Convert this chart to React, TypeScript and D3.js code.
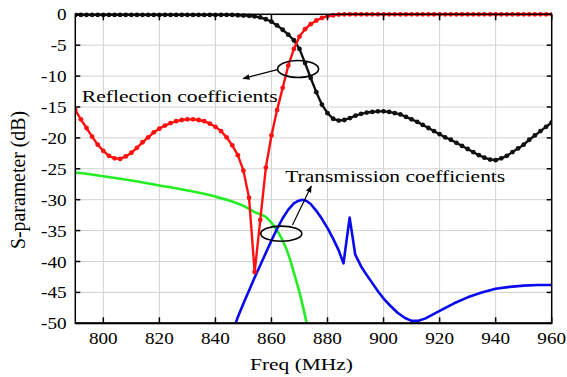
import {useEffect, useRef} from 'react';
import * as d3 from 'd3';

// sample frequencies of the two reflection traces (MHz)
const markerFreq = [
  790, 792, 794, 796, 798, 800, 802, 804, 806, 808, 810, 812, 814, 816, 818,
  820, 822, 824, 826, 828, 830, 832, 834, 836, 838, 840, 842, 844, 846, 848,
  850, 852, 854, 856, 858, 860, 862, 864, 866, 868, 870, 872, 874, 876, 878,
  880, 882, 884, 886, 888, 890, 892, 894, 896, 898, 900, 902, 904, 906, 908,
  910, 912, 914, 916, 918, 920, 922, 924, 926, 928, 930, 932, 934, 936, 938,
  940, 942, 944, 946, 948, 950, 952, 954, 956, 958, 960,
];

// red (dB)
const redS = [
  -15.5, -17.0, -18.4, -19.8, -21.1, -22.1, -22.9, -23.3, -23.4, -23.0, -22.4,
  -21.6, -20.7, -19.9, -19.1, -18.5, -18.0, -17.6, -17.3, -17.1, -17.0, -17.0,
  -17.1, -17.3, -17.7, -18.2, -18.9, -19.9, -21.2, -22.8, -25.3, -29.7, -41.7,
  -33.3, -24.8, -19.6, -15.5, -11.9, -8.3, -5.6, -3.6, -2.4, -1.6, -1.0, -0.6,
  -0.3, -0.15, -0.05, 0, 0, 0, 0, 0, 0, 0, 0, 0, 0, 0, 0, 0, 0, 0, 0, 0, 0, 0,
  0, 0, 0, 0, 0, 0, 0, 0, 0, 0, 0, 0, 0, 0, 0, 0, 0, 0, 0,
];

// black (dB)
const blackS = [
  -0.1, -0.1, -0.1, -0.1, -0.1, -0.1, -0.1, -0.1, -0.1, -0.1, -0.1, -0.1, -0.1,
  -0.1, -0.1, -0.1, -0.1, -0.1, -0.1, -0.1, -0.1, -0.1, -0.1, -0.1, -0.1, -0.1,
  -0.1, -0.1, -0.1, -0.15, -0.2, -0.25, -0.35, -0.5, -0.8, -1.2, -1.8, -2.5,
  -3.3, -4.2, -5.6, -7.9, -10.3, -12.6, -14.6, -16.0, -16.9, -17.2, -17.1,
  -16.8, -16.4, -16.1, -15.9, -15.8, -15.7, -15.7, -15.8, -16.0, -16.2, -16.6,
  -17.0, -17.4, -17.9, -18.4, -18.9, -19.4, -19.9, -20.3, -20.8, -21.3, -21.8,
  -22.3, -22.8, -23.2, -23.5, -23.6, -23.3, -22.9, -22.3, -21.7, -21.1, -20.3,
  -19.6, -18.9, -18.2, -17.5,
];

// green trace
const greenFreq = [790, 800, 810, 820, 830, 840, 846, 850, 854, 858, 861, 864, 866, 868, 870, 872, 874];
const greenS = [-25.6, -26.2, -26.9, -27.7, -28.5, -29.5, -30.3, -31.0, -32.0, -32.8, -34.3, -36.6, -38.8, -41.8, -45.0, -48.8, -53.0];

// blue trace
const blueFreq = [
  846, 848, 850, 852, 854, 856, 858, 860, 862, 864, 866, 868, 869.5, 871,
  872.5, 874, 876, 878, 880, 882, 884, 885.7, 887.9, 889.9, 892, 894, 896, 898,
  900, 902.5, 905, 907.5, 910, 912.5, 915, 920, 925, 930, 935, 940, 945, 950,
  955, 960,
];
const blueS = [
  -51.5, -49.0, -46.8, -44.7, -42.6, -40.6, -38.6, -36.6, -34.7, -33.0, -31.6,
  -30.6, -30.2, -30.0, -30.2, -30.7, -31.8, -33.1, -34.6, -36.3, -38.2, -40.3,
  -32.9, -38.9, -40.8, -42.2, -43.5, -44.8, -46.0, -47.2, -48.3, -49.1, -49.6,
  -49.6, -49.2, -48.0, -46.8, -45.8, -45.0, -44.4, -44.1, -43.9, -43.8, -43.8,
];

const xTicks = [800, 820, 840, 860, 880, 900, 920, 940, 960];
const yTicks = [0, -5, -10, -15, -20, -25, -30, -35, -40, -45, -50];

const W = 567;
const H = 377;
const FONT = '"Liberation Serif", "Times New Roman", serif';

const App = () => {
  const svgRef = useRef<SVGSVGElement | null>(null);

  useEffect(() => {
    if (!svgRef.current) return;
    const svg = d3.select(svgRef.current);
    svg.selectAll('*').remove();

    const margin = {top: 14.3, right: 15.3, bottom: 53.7, left: 75.3};
    const x = d3.scaleLinear().domain([790, 960]).range([margin.left, W - margin.right]);
    const y = d3.scaleLinear().domain([-50, 0]).range([H - margin.bottom, margin.top]);
    const [x0, x1] = x.range();
    const [y0, y1] = y.range();

    svg.append('rect').attr('width', W).attr('height', H).attr('fill', 'white');

    const defs = svg.append('defs');
    defs.append('clipPath').attr('id', 'plot-clip')
      .append('rect')
      .attr('x', x0).attr('y', y1 - 3)
      .attr('width', x1 - x0).attr('height', y0 - y1 + 3);
    defs.append('marker')
      .attr('id', 'arrow')
      .attr('viewBox', '0 0 10 10')
      .attr('refX', 9).attr('refY', 5)
      .attr('markerWidth', 7).attr('markerHeight', 7)
      .attr('markerUnits', 'userSpaceOnUse')
      .attr('orient', 'auto')
      .append('path')
      .attr('d', 'M0,1 L10,5 L0,9 Z')
      .attr('fill', 'black');

    // grid
    const grid = svg.append('g').attr('stroke', '#d2d2d2').attr('stroke-width', 1);
    xTicks.filter((t) => t < 960).forEach((t) => {
      grid.append('line').attr('x1', x(t)).attr('x2', x(t)).attr('y1', y1).attr('y2', y0);
    });
    yTicks.filter((t) => t > -50 && t < 0).forEach((t) => {
      grid.append('line').attr('x1', x0).attr('x2', x1).attr('y1', y(t)).attr('y2', y(t));
    });

    // curves
    const plot = svg.append('g').attr('clip-path', 'url(#plot-clip)');

    const green = greenFreq.map((f, i) => [f, greenS[i]] as [number, number]);
    const blue = blueFreq.map((f, i) => [f, blueS[i]] as [number, number]);
    const red = markerFreq.map((f, i) => [f, redS[i]] as [number, number]);
    const black = markerFreq.map((f, i) => [f, blackS[i]] as [number, number]);

    const smooth = d3.line<[number, number]>()
      .x((d) => x(d[0]))
      .y((d) => y(d[1]))
      .curve(d3.curveMonotoneX);
    const straight = d3.line<[number, number]>()
      .x((d) => x(d[0]))
      .y((d) => y(d[1]))
      .curve(d3.curveLinear);

    plot.append('path').datum(green)
      .attr('fill', 'none').attr('stroke', '#22ee22').attr('stroke-width', 2.6)
      .attr('d', smooth);
    plot.append('path').datum(blue)
      .attr('fill', 'none').attr('stroke', '#0a0aee').attr('stroke-width', 2.6)
      .attr('stroke-linejoin', 'round')
      .attr('d', straight);

    const drawMarked = (data: [number, number][], color: string) => {
      plot.append('path').datum(data)
        .attr('fill', 'none').attr('stroke', color).attr('stroke-width', 2.4)
        .attr('stroke-linejoin', 'round')
        .attr('d', straight);
      plot.append('g').selectAll('circle').data(data).join('circle')
        .attr('cx', (d) => x(d[0]))
        .attr('cy', (d) => y(d[1]))
        .attr('r', 2.4)
        .attr('fill', color);
    };
    drawMarked(black, '#111111');
    drawMarked(red, '#ff1010');

    // frame + inward ticks
    const axes = svg.append('g').attr('stroke', 'black');
    axes.append('rect')
      .attr('x', x0).attr('y', y1).attr('width', x1 - x0).attr('height', y0 - y1)
      .attr('fill', 'none').attr('stroke-width', 1.5);
    axes.append('line').attr('x1', x0).attr('x2', x1).attr('y1', y0).attr('y2', y0).attr('stroke-width', 2);
    xTicks.forEach((t) => {
      axes.append('line').attr('x1', x(t)).attr('x2', x(t)).attr('y1', y0).attr('y2', y0 - 6).attr('stroke-width', 1.5);
      axes.append('line').attr('x1', x(t)).attr('x2', x(t)).attr('y1', y1).attr('y2', y1 + 6).attr('stroke-width', 1.5);
    });
    yTicks.forEach((t) => {
      axes.append('line').attr('x1', x0).attr('x2', x0 + 5).attr('y1', y(t)).attr('y2', y(t)).attr('stroke-width', 1.5);
      axes.append('line').attr('x1', x1).attr('x2', x1 - 5).attr('y1', y(t)).attr('y2', y(t)).attr('stroke-width', 1.5);
    });

    // tick labels
    const sx = 1.13;
    const labels = svg.append('g').attr('font-family', FONT).attr('font-size', 17).attr('fill', 'black');
    xTicks.forEach((t) => {
      labels.append('text')
        .attr('transform', `translate(${x(t)},${y0 + 20.7}) scale(${sx},1)`)
        .attr('text-anchor', 'middle')
        .text(String(t));
    });
    yTicks.forEach((t) => {
      labels.append('text')
        .attr('transform', `translate(${x0 - 8.6},${y(t) + 6}) scale(${sx},1)`)
        .attr('text-anchor', 'end')
        .text(String(t));
    });

    // axis titles
    svg.append('text')
      .attr('x', 250).attr('y', 370)
      .attr('font-family', FONT).attr('font-size', 17.5)
      .attr('textLength', 103).attr('lengthAdjust', 'spacingAndGlyphs')
      .text('Freq (MHz)');
    svg.append('text')
      .attr('transform', 'translate(25,180) rotate(-90) scale(1,1.15)')
      .attr('text-anchor', 'middle')
      .attr('font-family', FONT).attr('font-size', 19)
      .attr('textLength', 138).attr('lengthAdjust', 'spacingAndGlyphs')
      .text('S-parameter (dB)');

    // annotations
    const note = svg.append('g').attr('stroke', 'black').attr('fill', 'none');
    note.append('ellipse')
      .attr('cx', x(869.5)).attr('cy', y(-8.85))
      .attr('rx', 20.5).attr('ry', 8.5).attr('stroke-width', 1.6);
    note.append('line')
      .attr('x1', x(862.1)).attr('y1', y(-8.95))
      .attr('x2', x(849.9)).attr('y2', y(-10.4))
      .attr('stroke-width', 1.2).attr('marker-end', 'url(#arrow)');
    note.append('ellipse')
      .attr('cx', x(863.5)).attr('cy', y(-35.5))
      .attr('rx', 20.5).attr('ry', 7.6).attr('stroke-width', 1.6);
    note.append('line')
      .attr('x1', x(867.5)).attr('y1', y(-34.1))
      .attr('x2', x(874.2)).attr('y2', y(-27.8))
      .attr('stroke-width', 1.2).attr('marker-end', 'url(#arrow)');

    svg.append('text')
      .attr('x', x(792.3)).attr('y', y(-14.2))
      .attr('font-family', FONT).attr('font-size', 17.5)
      .attr('textLength', 196).attr('lengthAdjust', 'spacingAndGlyphs')
      .text('Reflection coefficients');
    svg.append('text')
      .attr('x', x(864.9)).attr('y', y(-27.1))
      .attr('font-family', FONT).attr('font-size', 17.5)
      .attr('textLength', 220).attr('lengthAdjust', 'spacingAndGlyphs')
      .text('Transmission coefficients');
  }, []);

  return (
    <svg
      ref={svgRef}
      width={W}
      height={H}
      style={{position: 'absolute', left: 0, top: 0, display: 'block'}}
    ></svg>
  );
};

export default App;
